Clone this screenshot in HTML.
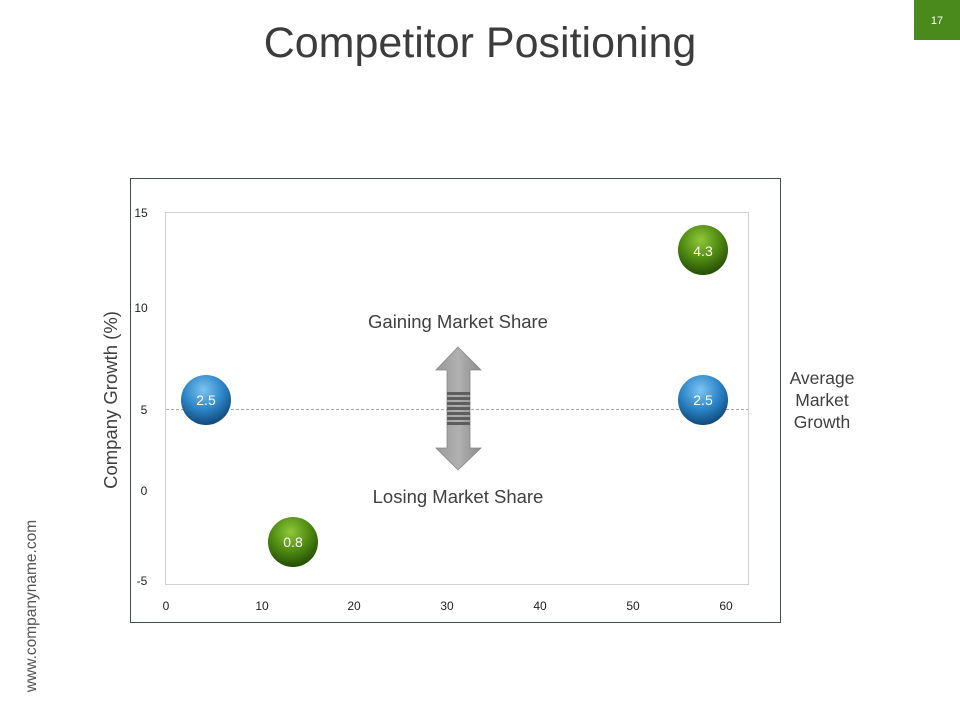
<!DOCTYPE html>
<html><head><meta charset="utf-8"><style>
html,body{margin:0;padding:0;background:#fff;}
body{width:960px;height:720px;overflow:hidden;font-family:"Liberation Sans",sans-serif;}
</style></head><body>
<svg width="960" height="720" xmlns="http://www.w3.org/2000/svg" font-family="Liberation Sans, sans-serif">
<defs>
<radialGradient id="g" cx="0.45" cy="0.3" r="0.7">
<stop offset="0" stop-color="#8fc83a"/><stop offset="0.55" stop-color="#4f8a12"/><stop offset="1" stop-color="#254d05"/>
</radialGradient>
<radialGradient id="b" cx="0.45" cy="0.3" r="0.7">
<stop offset="0" stop-color="#7cc4f0"/><stop offset="0.55" stop-color="#2d86c8"/><stop offset="1" stop-color="#10497a"/>
</radialGradient>
<linearGradient id="ar" x1="0" x2="1"><stop offset="0" stop-color="#9a9a9a"/><stop offset="0.5" stop-color="#b0b0b0"/><stop offset="1" stop-color="#8c8c8c"/></linearGradient>
</defs>
<text x="480" y="57" text-anchor="middle" font-size="43" fill="#3c3c3c">Competitor Positioning</text>
<rect x="914" y="0" width="46" height="40" fill="#4a8a1c"/>
<text x="937" y="24" text-anchor="middle" font-size="11" fill="#fff">17</text>
<text transform="translate(36,606) rotate(-90)" text-anchor="middle" font-size="15.5" fill="#555">www.companyname.com</text>
<rect x="130.5" y="178.5" width="650" height="444" fill="#fff" stroke="#3a5060" stroke-width="1"/>
<rect x="165.5" y="212.5" width="583" height="372" fill="none" stroke="#d0d0d0" stroke-width="1"/>
<line x1="166" y1="409.5" x2="748" y2="409.5" stroke="#aaa" stroke-dasharray="3,2"/>
<g font-size="12" fill="#222" text-anchor="middle">
<text x="141" y="217">15</text><text x="141" y="312">10</text><text x="144" y="414">5</text><text x="144" y="495">0</text><text x="142" y="585">-5</text>
<text x="166" y="610">0</text><text x="262" y="610">10</text><text x="354" y="610">20</text><text x="447" y="610">30</text><text x="540" y="610">40</text><text x="633" y="610">50</text><text x="726" y="610">60</text>
</g>
<text transform="translate(117,400) rotate(-90)" text-anchor="middle" font-size="18.5" fill="#404040">Company Growth (%)</text>
<text x="458" y="328" text-anchor="middle" font-size="18.5" fill="#404040">Gaining Market Share</text>
<text x="458" y="503" text-anchor="middle" font-size="18.5" fill="#404040">Losing Market Share</text>
<g font-size="17.5" fill="#404040" text-anchor="middle">
<text x="822" y="384">Average</text><text x="822" y="406">Market</text><text x="822" y="428">Growth</text>
</g>
<polygon points="458,347 481,370 470,370 470,448 481,448 458,470 436,448 447,448 447,370 436,370" fill="url(#ar)" stroke="#888" stroke-width="0.8"/>
<g fill="#5e5e5e">
<rect x="447" y="392" width="23" height="3"/><rect x="447" y="397" width="23" height="3"/><rect x="447" y="402" width="23" height="3"/><rect x="447" y="407" width="23" height="3"/><rect x="447" y="412" width="23" height="3"/><rect x="447" y="417" width="23" height="3"/><rect x="447" y="422" width="23" height="3"/>
</g>
<circle cx="703" cy="250" r="25" fill="url(#g)"/>
<text x="703" y="256" text-anchor="middle" font-size="14" fill="#fff">4.3</text>
<circle cx="206" cy="400" r="25" fill="url(#b)"/>
<text x="206" y="405" text-anchor="middle" font-size="14" fill="#fff">2.5</text>
<circle cx="703" cy="400" r="25" fill="url(#b)"/>
<text x="703" y="405" text-anchor="middle" font-size="14" fill="#fff">2.5</text>
<circle cx="293" cy="542" r="25" fill="url(#g)"/>
<text x="293" y="547" text-anchor="middle" font-size="14" fill="#fff">0.8</text>
</svg>
</body></html>
